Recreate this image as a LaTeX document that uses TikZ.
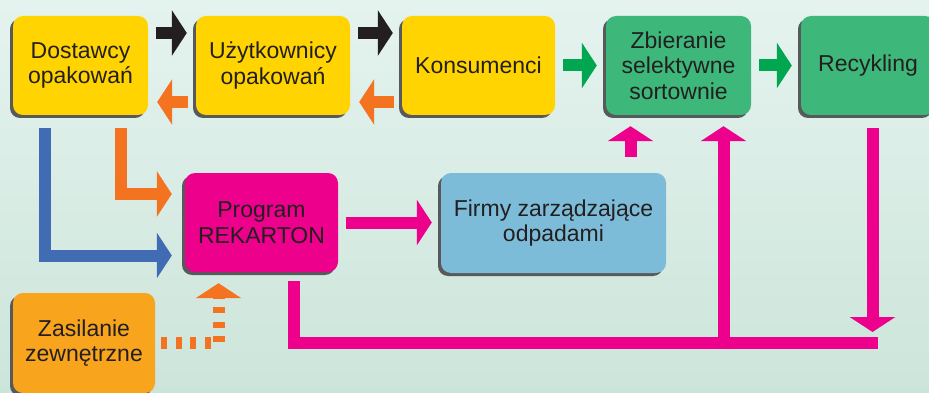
\documentclass[tikz,border=0pt]{standalone}
\usepackage{fontspec}
\setmainfont{Liberation Sans}
\usetikzlibrary{arrows.meta,shadows}
\definecolor{bgtop}{HTML}{E5F3EF}
\definecolor{bgbot}{HTML}{CCE5DA}
\definecolor{gold}{HTML}{FFD400}
\definecolor{leaf}{HTML}{3DB87A}
\definecolor{rose}{HTML}{EC008C}
\definecolor{sky}{HTML}{7DBCD8}
\definecolor{amber}{HTML}{F8A51D}
\definecolor{rust}{HTML}{F47320}
\definecolor{navy}{HTML}{416CB4}
\definecolor{grass}{HTML}{00A650}
\definecolor{ink}{HTML}{231F20}
\definecolor{shade}{HTML}{58595B}

\begin{document}
\begin{tikzpicture}[x=1pt, y=-1pt, box/.style = {rounded corners=10pt, minimum height=99pt, align=center, text=ink, font=\fontsize{23}{25.5}\selectfont, drop shadow={shadow xshift=-3pt, shadow yshift=-3pt, fill=shade, opacity=1}}, pipe/.style = {line width=12pt, -{Triangle[width=45pt,length=15pt]}, shorten <=8pt, shorten >=9pt}]
\useasboundingbox (0,0) rectangle (929,393);
\clip (0,0) rectangle (929,393);
\fill[top color=bgtop, bottom color=bgbot] (0,0) rectangle (929,393);
\node[box, fill=gold, minimum width=135pt] (dost) at (80.5,65.5) {Dostawcy\\opakowań};
\node[box, fill=gold, minimum width=154pt] (uzyt) at (273,65.5) {Użytkownicy\\opakowań};
\node[box, fill=gold, minimum width=153pt] (kons) at (478.5,65.5) {Konsumenci};
\node[box, fill=leaf, minimum width=145pt] (zbier) at (678.5,65.5) {Zbieranie\\selektywne\\sortownie};
\node[box, fill=leaf, minimum width=134pt] (recy) at (868,65.5) {Recykling};
\node[box, fill=rose, minimum width=153pt] (prog) at (261.5,222.5) {Program\\REKARTON};
\node[box, fill=sky, minimum width=225pt, minimum height=100pt] (firmy) at (553.5,223) {Firmy zarządzające\\odpadami};
\node[box, fill=amber, minimum width=142pt, minimum height=100pt] (zas) at (84,343) {Zasilanie\\zewnętrzne};
\coordinate (loopend) at (878,343);
\coordinate (drop) at (872.5,332);
\draw[pipe, ink] (dost.east |- 0,33) -- (uzyt.west |- 0,33);
\draw[pipe, ink] (uzyt.east |- 0,33) -- (kons.west |- 0,33);
\draw[pipe, rust] (uzyt.west |- 0,102) -- (dost.east |- 0,102);
\draw[pipe, rust] (kons.west |- 0,102) -- (uzyt.east |- 0,102);
\draw[pipe, grass] (kons.east) -- (zbier.west);
\draw[pipe, grass] (zbier.east) -- (recy.west);
\draw[pipe, rose] (prog.east) -- (firmy.west |- prog.east);
\draw[pipe, rose, shorten <=16pt, shorten >=11pt] (firmy.north -| 630.5,0) -- (zbier.south -| 630.5,0);
\draw[pipe, navy, shorten <=13pt, shorten >=13pt] ([xshift=-35.5pt]dost.south) |- (prog.west |- 0,255.5);
\draw[pipe, rust, shorten <=13pt, shorten >=13pt] ([xshift=40.5pt]dost.south) |- (prog.west |- 0,194);
\draw[rose, line width=12pt, shorten <=9pt] ([xshift=32.5pt]prog.south) |- (loopend);
\draw[pipe, rose, shorten <=0pt, shorten >=11pt] (loopend -| 723.5,0) -- (zbier.south -| 723.5,0);
\draw[pipe, rose, shorten <=13pt, shorten >=0pt] ([xshift=4.5pt]recy.south) -- (drop);
\draw[pipe, rust, dash pattern=on 6pt off 8.5pt, shorten <=6pt, shorten >=11pt] (zas.east) -| ([xshift=-43pt]prog.south);
\end{tikzpicture}
\end{document}
